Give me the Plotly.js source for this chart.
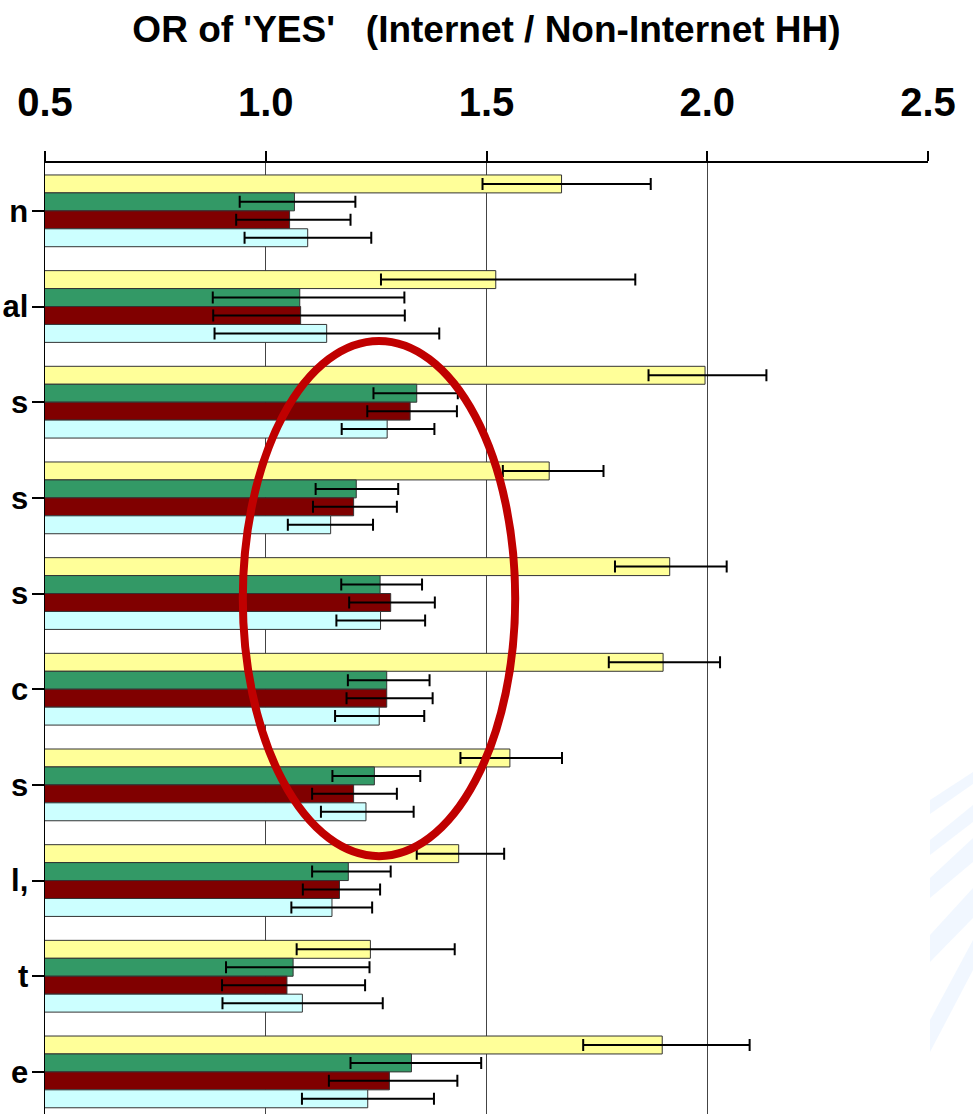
<!DOCTYPE html>
<html>
<head>
<meta charset="utf-8">
<script src="https://cdn.plot.ly/plotly-3.0.1.min.js"></script>
<style>html,body{margin:0;padding:0;background:#fff;overflow:hidden}</style>
</head>
<body>
<div id="chart" style="width:973px;height:1114px"></div>
<script>
// Category labels (visible fragments at the left edge)
const labels = ['n', 'al', 's', 's', 's', 'c', 's', 'l,', 't', 'e'];
const xTickVals = [0.5, 1.0, 1.5, 2.0, 2.5];
const xTickText = ['0.5', '1.0', '1.5', '2.0', '2.5'];

// Series 1 (yellow)
const s1 = [1.670, 1.521, 1.995, 1.642, 1.915, 1.900, 1.553, 1.437, 1.237, 1.898];
const s1Lo = [1.491, 1.261, 1.867, 1.537, 1.791, 1.777, 1.441, 1.342, 1.070, 1.719];
const s1Hi = [1.872, 1.837, 2.134, 1.765, 2.044, 2.029, 1.671, 1.540, 1.428, 2.096];
// Series 2 (green)
const s2 = [1.065, 1.077, 1.342, 1.205, 1.259, 1.274, 1.246, 1.187, 1.062, 1.330];
const s2Lo = [0.941, 0.880, 1.244, 1.113, 1.171, 1.186, 1.151, 1.105, 0.910, 1.192];
const s2Hi = [1.203, 1.314, 1.435, 1.300, 1.354, 1.371, 1.350, 1.283, 1.235, 1.488];
// Series 3 (dark red)
const s3 = [1.054, 1.079, 1.327, 1.199, 1.283, 1.274, 1.199, 1.167, 1.048, 1.280];
const s3Lo = [0.933, 0.881, 1.230, 1.107, 1.189, 1.183, 1.105, 1.084, 0.901, 1.143];
const s3Hi = [1.192, 1.315, 1.433, 1.297, 1.383, 1.378, 1.297, 1.259, 1.225, 1.434];
// Series 4 (light cyan)
const s4 = [1.095, 1.138, 1.275, 1.147, 1.260, 1.257, 1.227, 1.150, 1.083, 1.231];
const s4Lo = [0.952, 0.884, 1.172, 1.050, 1.160, 1.157, 1.125, 1.058, 0.902, 1.082];
const s4Hi = [1.239, 1.393, 1.382, 1.243, 1.361, 1.359, 1.335, 1.241, 1.265, 1.381];

const seriesColors = ['#FFFF99', '#339966', '#800000', '#CCFFFF'];

const idx = labels.map((_, i) => i);
const FONT = 'Liberation Sans, Arial, Helvetica, sans-serif';

function mk(vals, lo, hi, color) {
  return {
    type: 'bar', orientation: 'h',
    x: vals, y: idx,
    marker: {color: color, line: {color: '#333333', width: 1}},
    error_x: {
      type: 'data', symmetric: false,
      array: vals.map((v, i) => hi[i] - v),
      arrayminus: vals.map((v, i) => v - lo[i]),
      color: '#000000', thickness: 2, width: 6
    },
    hoverinfo: 'x'
  };
}

const data = [
  mk(s1, s1Lo, s1Hi, seriesColors[0]),
  mk(s2, s2Lo, s2Hi, seriesColors[1]),
  mk(s3, s3Lo, s3Hi, seriesColors[2]),
  mk(s4, s4Lo, s4Hi, seriesColors[3])
];

// faint background logo stripes (decoration, pixel -> paper)
const W = 973, H = 1114, ML = 45, MR = 45, MT = 163;
const PW = W - ML - MR, PH = H - MT;
function pp(px, py) { return ((px - ML) / PW).toFixed(4) + ',' + (1 - (py - MT) / PH).toFixed(4); }
const stripes = [
  [[930,800],[973,772],[973,784],[930,814]],
  [[930,840],[973,805],[973,822],[930,855]],
  [[930,878],[973,838],[973,862],[930,898]],
  [[930,935],[973,888],[973,918],[930,962]],
  [[930,1020],[973,940],[973,970],[930,1052]]
];
const stripeShapes = stripes.map(s => ({
  type: 'path', xref: 'paper', yref: 'paper', layer: 'below',
  path: 'M' + s.map(p => pp(p[0], p[1])).join(' L') + ' Z',
  fillcolor: 'rgba(225,238,255,0.45)', line: {width: 0}
}));

const layout = {
  width: W, height: H,
  margin: {l: ML, r: MR, t: MT, b: 0, pad: 0},
  paper_bgcolor: '#ffffff', plot_bgcolor: 'rgba(0,0,0,0)',
  showlegend: false,
  barmode: 'group', bargap: 0.25, bargroupgap: 0,
  title: {
    text: "OR of 'YES'\u00a0\u00a0\u00a0(Internet / Non-Internet HH)",
    font: {family: FONT, size: 37, weight: 'bold', color: '#000'},
    x: 0.5, xref: 'paper', y: 1 - 29 / H, yref: 'container', yanchor: 'middle'
  },
  xaxis: {
    side: 'top', range: [0.5, 2.5], tickvals: xTickVals, ticktext: xTickText,
    showgrid: true, gridcolor: '#444444', gridwidth: 1,
    ticks: 'outside', ticklen: 10, tickwidth: 2, tickcolor: '#000',
    showline: true, linecolor: '#000', linewidth: 2,
    zeroline: false, ticklabelstandoff: 19,
    tickfont: {family: FONT, size: 40, weight: 'bold', color: '#000'}
  },
  yaxis: {
    range: [9.44, -0.5], tickvals: idx, ticktext: labels,
    showgrid: false, zeroline: false,
    ticks: 'outside', ticklen: 12, tickwidth: 2, tickcolor: '#000',
    showline: true, linecolor: '#000', linewidth: 1.5,
    ticklabelstandoff: -3,
    tickfont: {family: FONT, size: 31, weight: 'bold', color: '#000'}
  },
  shapes: stripeShapes.concat([{
    type: 'circle', xref: 'x', yref: 'y', layer: 'above',
    x0: 0.948, x1: 1.565, y0: 1.36, y1: 6.745,
    line: {color: '#C00000', width: 8}
  }])
};

Plotly.newPlot('chart', data, layout, {displayModeBar: false, staticPlot: true});
</script>
</body>
</html>
